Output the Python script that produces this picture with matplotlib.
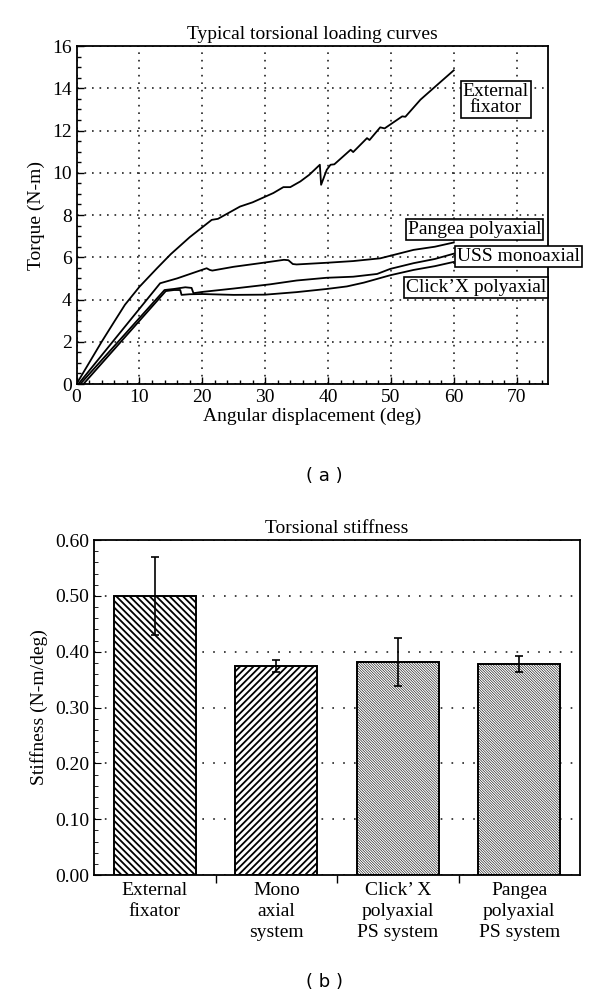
import matplotlib
matplotlib.use("Agg")
import matplotlib.pyplot as plt
import numpy as np

plt.rcParams["font.family"] = ["Liberation Serif", "DejaVu Serif"]
plt.rcParams["font.size"] = 14

# (a) typical torsional loading curves
ext_deg = [0, 2, 4, 6, 7.7, 10, 12.8, 15, 18, 21.5, 22.5, 26, 28, 31.3, 32.9, 34, 35.6,
           37, 38.7, 38.9, 39.8, 40.4, 41, 43.6, 44, 46.2, 46.6, 48.3, 49, 51.8, 52.3,
           54.7, 57.4, 60]
ext_torque = [0, 1.0, 2.0, 2.95, 3.75, 4.6, 5.48, 6.15, 6.95, 7.77, 7.82, 8.40, 8.60,
              9.04, 9.32, 9.32, 9.59, 9.9, 10.38, 9.43, 10.14, 10.38, 10.4, 11.09, 10.98,
              11.64, 11.55, 12.15, 12.10, 12.67, 12.65, 13.46, 14.17, 14.85]

pangea_deg = [0.3, 13.3, 16, 20.7, 21.2, 21.6, 25, 29.2, 33.0, 33.7, 34.4, 35, 39.8, 44,
              48.3, 53.6, 57, 60]
pangea_torque = [0, 4.77, 5.0, 5.48, 5.40, 5.37, 5.55, 5.72, 5.88, 5.86, 5.68, 5.66, 5.74,
                 5.82, 5.95, 6.35, 6.5, 6.70]

uss_deg = [0.6, 14.0, 15.5, 17.3, 18.3, 18.6, 20, 25, 30.8, 35, 39.8, 44, 47.8, 49.9,
           53.6, 57, 60]
uss_torque = [0, 4.45, 4.50, 4.58, 4.55, 4.30, 4.36, 4.52, 4.72, 4.90, 5.03, 5.08, 5.21,
              5.45, 5.72, 5.92, 6.17]

clickx_deg = [1.1, 14.2, 15.5, 16.5, 16.7, 18, 20, 25, 30, 35, 39.8, 43, 45.7, 49.9, 53.6,
              57, 60]
clickx_torque = [0, 4.40, 4.45, 4.45, 4.22, 4.25, 4.26, 4.22, 4.23, 4.35, 4.50, 4.62, 4.80,
                 5.15, 5.40, 5.58, 5.78]

# (b) torsional stiffness
systems = ["External\nfixator", "Mono\naxial\nsystem", "Click\u2019 X\npolyaxial\nPS system",
           "Pangea\npolyaxial\nPS system"]
stiffness = [0.500, 0.375, 0.381, 0.378]
stiffness_err = [0.070, 0.011, 0.043, 0.015]
hatches = ["\\" * 5, "/" * 5, "\\" * 13, "\\" * 13]
hatch_widths = [1.3, 1.3, 0.4, 0.4]

fig = plt.figure(figsize=(6, 9.98), dpi=100)

# ---------- panel (a)
ax1 = fig.add_axes([0.1275, 0.6152, 0.786, 0.3387])
for xs, ys in [(ext_deg, ext_torque), (pangea_deg, pangea_torque),
               (uss_deg, uss_torque), (clickx_deg, clickx_torque)]:
    ax1.plot(xs, ys, color="black", lw=1.3)

box = dict(boxstyle="square,pad=0.1", fc="white", ec="black", lw=1.2)
ax1.text(66.7, 13.47, "External\nfixator", ha="center", va="center", bbox=box,
         linespacing=0.95)
ax1.text(63.3, 7.32, "Pangea polyaxial", ha="center", va="center", bbox=box)
ax1.text(70.3, 6.04, "USS monoaxial", ha="center", va="center", bbox=box, clip_on=False)
ax1.text(63.5, 4.57, "Click\u2019X polyaxial", ha="center", va="center", bbox=box)

ax1.set_xlim(0, 75)
ax1.set_ylim(0, 16)
ax1.set_xticks(np.arange(0, 71, 10))
ax1.set_yticks(np.arange(0, 17, 2))
ax1.set_xticks(np.arange(0, 75, 2), minor=True)
ax1.set_yticks(np.arange(0, 16.1, 0.5), minor=True)
ax1.tick_params(which="both", direction="in", top=False, right=False, labelsize=14)
ax1.tick_params(which="major", length=5, width=1)
ax1.tick_params(which="minor", length=3, width=1)
ax1.grid(True, which="major", linestyle=(0, (1, 3.5)), color="#222222", lw=1.2)
for s in ax1.spines.values():
    s.set_linewidth(1.3)
ax1.set_title("Typical torsional loading curves", fontsize=14, pad=5)
ax1.set_xlabel("Angular displacement (deg)", fontsize=14, labelpad=1)
ax1.set_ylabel("Torque (N-m)", fontsize=14, labelpad=5)

fig.text(0.54, 1 - 476 / 998, "( a )", family="DejaVu Sans", fontsize=13,
         ha="center", va="center")

# ---------- panel (b)
ax2 = fig.add_axes([0.1567, 0.1232, 0.81, 0.3357])
ax2.set_axisbelow(True)
pos = np.arange(len(systems))
for i in range(len(systems)):
    plt.rcParams["hatch.linewidth"] = hatch_widths[i]
    bars = ax2.bar(pos[i], stiffness[i], width=0.675, color="white", edgecolor="black",
                   linewidth=1.4, hatch=hatches[i], zorder=2)
    for b in bars:
        if hasattr(b, "set_hatch_linewidth"):
            b.set_hatch_linewidth(hatch_widths[i])
ax2.errorbar(pos, stiffness, yerr=stiffness_err, fmt="none", ecolor="black",
             elinewidth=1.2, capsize=3, capthick=1.2, zorder=3)

ax2.set_xlim(-0.5, len(systems) - 0.5)
ax2.set_ylim(0, 0.6)
ax2.set_yticks(np.arange(0, 0.61, 0.1))
ax2.set_yticklabels(["%.2f" % v for v in np.arange(0, 0.61, 0.1)])
ax2.set_yticks(np.arange(0, 0.6, 0.02), minor=True)
ax2.set_xticks(pos)
ax2.set_xticklabels(systems, linespacing=1.3)
ax2.set_xticks(pos[:-1] + 0.5, minor=True)
ax2.tick_params(axis="x", which="major", length=0, pad=5, labelsize=14)
ax2.tick_params(axis="x", which="minor", direction="out", length=6, width=1)
ax2.tick_params(axis="y", which="both", direction="in", labelsize=14)
ax2.tick_params(axis="y", which="major", length=5)
ax2.tick_params(axis="y", which="minor", length=3)
ax2.grid(True, axis="y", which="major", linestyle=(0, (1, 5.5)), color="#222222", lw=1.2)
for s in ax2.spines.values():
    s.set_linewidth(1.3)
ax2.set_title("Torsional stiffness", fontsize=14, pad=5)
ax2.set_ylabel("Stiffness (N-m/deg)", fontsize=14, labelpad=5)

fig.text(0.54, 1 - 982 / 998, "( b )", family="DejaVu Sans", fontsize=13,
         ha="center", va="center")

fig.savefig("out.png", dpi=100)
